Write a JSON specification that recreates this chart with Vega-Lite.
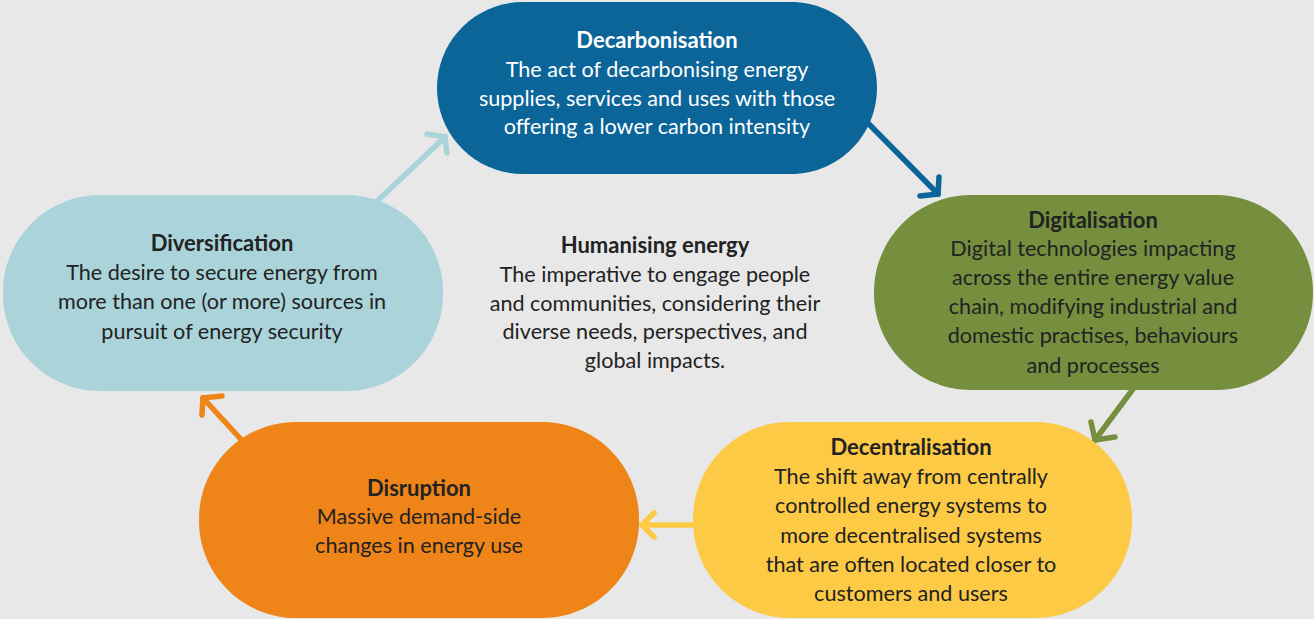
{
  "$schema": "https://vega.github.io/schema/vega-lite/v6.json",
  "width": 1314,
  "height": 619,
  "autosize": {"type": "fit", "contains": "padding"},
  "padding": 0,
  "background": "#e8e8e8",
  "config": {"view": {"stroke": null}},
  "datasets": {
    "pills": [
      {"node": "Decarbonisation", "x": 437, "x2": 877, "y": 2, "y2": 174},
      {"node": "Digitalisation", "x": 874, "x2": 1313, "y": 195, "y2": 390},
      {"node": "Decentralisation", "x": 693, "x2": 1132, "y": 422, "y2": 618},
      {"node": "Disruption", "x": 199, "x2": 639, "y": 422, "y2": 618},
      {"node": "Diversification", "x": 3, "x2": 443, "y": 195, "y2": 391}
    ],
    "arrows": [
      {"node": "Decarbonisation", "x": 860, "y": 115, "x2": 938, "y2": 194},
      {"node": "Decarbonisation", "x": 938, "y": 194, "x2": 939, "y2": 177},
      {"node": "Decarbonisation", "x": 938, "y": 194, "x2": 920, "y2": 196},
      {"node": "Digitalisation", "x": 1136, "y": 385, "x2": 1095, "y2": 440},
      {"node": "Digitalisation", "x": 1095, "y": 440, "x2": 1091, "y2": 422},
      {"node": "Digitalisation", "x": 1095, "y": 440, "x2": 1115, "y2": 437},
      {"node": "Decentralisation", "x": 700, "y": 525, "x2": 642, "y2": 525},
      {"node": "Decentralisation", "x": 642, "y": 525, "x2": 654, "y2": 513},
      {"node": "Decentralisation", "x": 642, "y": 525, "x2": 654, "y2": 537},
      {"node": "Disruption", "x": 248, "y": 447, "x2": 203, "y2": 398},
      {"node": "Disruption", "x": 203, "y": 398, "x2": 222, "y2": 396},
      {"node": "Disruption", "x": 203, "y": 398, "x2": 202, "y2": 415},
      {"node": "Diversification", "x": 372, "y": 206, "x2": 445, "y2": 137},
      {"node": "Diversification", "x": 445, "y": 137, "x2": 427, "y2": 134},
      {"node": "Diversification", "x": 445, "y": 137, "x2": 447, "y2": 153}
    ],
    "texts": [
      {"kind": "title", "tone": "light", "x": 657, "y": 41, "text": "Decarbonisation"},
      {"kind": "body", "tone": "light", "x": 657, "y": 71, "text": "The act of decarbonising energy"},
      {"kind": "body", "tone": "light", "x": 657, "y": 100, "text": "supplies, services and uses with those"},
      {"kind": "body", "tone": "light", "x": 657, "y": 128, "text": "offering a lower carbon intensity"},
      {"kind": "title", "tone": "dark", "x": 1093, "y": 221, "text": "Digitalisation"},
      {"kind": "body", "tone": "dark", "x": 1093, "y": 250, "text": "Digital technologies impacting"},
      {"kind": "body", "tone": "dark", "x": 1093, "y": 279, "text": "across the entire energy value"},
      {"kind": "body", "tone": "dark", "x": 1093, "y": 308, "text": "chain, modifying industrial and"},
      {"kind": "body", "tone": "dark", "x": 1093, "y": 337, "text": "domestic practises, behaviours"},
      {"kind": "body", "tone": "dark", "x": 1093, "y": 367, "text": "and processes"},
      {"kind": "title", "tone": "dark", "x": 911, "y": 448, "text": "Decentralisation"},
      {"kind": "body", "tone": "dark", "x": 911, "y": 478, "text": "The shift away from centrally"},
      {"kind": "body", "tone": "dark", "x": 911, "y": 507, "text": "controlled energy systems to"},
      {"kind": "body", "tone": "dark", "x": 911, "y": 537, "text": "more decentralised systems"},
      {"kind": "body", "tone": "dark", "x": 911, "y": 566, "text": "that are often located closer to"},
      {"kind": "body", "tone": "dark", "x": 911, "y": 595, "text": "customers and users"},
      {"kind": "title", "tone": "dark", "x": 419, "y": 489, "text": "Disruption"},
      {"kind": "body", "tone": "dark", "x": 419, "y": 518, "text": "Massive demand-side"},
      {"kind": "body", "tone": "dark", "x": 419, "y": 547, "text": "changes in energy use"},
      {"kind": "title", "tone": "dark", "x": 222, "y": 244, "text": "Diversification"},
      {"kind": "body", "tone": "dark", "x": 222, "y": 274, "text": "The desire to secure energy from"},
      {"kind": "body", "tone": "dark", "x": 222, "y": 303, "text": "more than one (or more) sources in"},
      {"kind": "body", "tone": "dark", "x": 222, "y": 333, "text": "pursuit of energy security"},
      {"kind": "title", "tone": "dark", "x": 655, "y": 246, "text": "Humanising energy"},
      {"kind": "body", "tone": "dark", "x": 655, "y": 276, "text": "The imperative to engage people"},
      {"kind": "body", "tone": "dark", "x": 655, "y": 305, "text": "and communities, considering their"},
      {"kind": "body", "tone": "dark", "x": 655, "y": 333, "text": "diverse needs, perspectives, and"},
      {"kind": "body", "tone": "dark", "x": 655, "y": 362, "text": "global impacts."}
    ]
  },
  "encoding": {
    "x": {"field": "x", "type": "quantitative", "scale": {"domain": [0, 1314], "nice": false, "zero": false}, "axis": null},
    "y": {"field": "y", "type": "quantitative", "scale": {"domain": [0, 619], "nice": false, "zero": false, "reverse": true}, "axis": null}
  },
  "layer": [
    {
      "layer": [
        {
          "data": {"name": "arrows"},
          "mark": {"type": "rule", "strokeWidth": 5.5, "strokeCap": "round"},
          "encoding": {
            "x2": {"field": "x2"},
            "y2": {"field": "y2"}
          }
        },
        {
          "data": {"name": "pills"},
          "transform": [{"filter": "datum.node === 'Decarbonisation'"}],
          "mark": {"type": "rect", "cornerRadius": 86},
          "encoding": {
            "x2": {"field": "x2"},
            "y2": {"field": "y2"}
          }
        },
        {
          "data": {"name": "pills"},
          "transform": [{"filter": "datum.node !== 'Decarbonisation'"}],
          "mark": {"type": "rect", "cornerRadius": 97},
          "encoding": {
            "x2": {"field": "x2"},
            "y2": {"field": "y2"}
          }
        }
      ],
      "encoding": {
        "color": {"field": "node", "type": "nominal", "scale": {"domain": ["Decarbonisation", "Digitalisation", "Decentralisation", "Disruption", "Diversification"], "range": ["#0b6599", "#758f3f", "#fdca45", "#ef8519", "#aad4da"]}, "legend": null}
      },
      "resolve": {"scale": {"color": "shared"}}
    },
    {
      "layer": [
        {
          "data": {"name": "texts"},
          "transform": [{"filter": "datum.kind === 'title'"}],
          "mark": {"type": "text", "font": "Lato", "fontSize": 22, "fontWeight": "bold", "align": "center", "baseline": "middle"}
        },
        {
          "data": {"name": "texts"},
          "transform": [{"filter": "datum.kind === 'body'"}],
          "mark": {"type": "text", "font": "Lato", "fontSize": 21.6, "align": "center", "baseline": "middle"}
        }
      ],
      "encoding": {
        "text": {"field": "text"},
        "color": {"field": "tone", "type": "nominal", "scale": {"domain": ["light", "dark"], "range": ["#ffffff", "#222222"]}, "legend": null}
      }
    }
  ],
  "resolve": {"scale": {"color": "independent"}}
}
